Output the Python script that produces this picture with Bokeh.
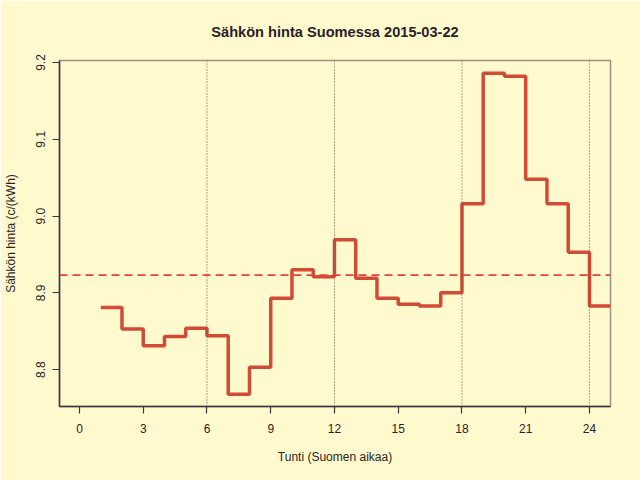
from bokeh.plotting import figure
from bokeh.models import FixedTicker, Range1d, Span, Title
from bokeh.embed import file_html
from bokeh.resources import INLINE

# data
hours = list(range(1, 25))
prices = [8.881, 8.853, 8.831, 8.843, 8.854, 8.844, 8.768, 8.803,
          8.893, 8.930, 8.921, 8.969, 8.919, 8.893, 8.885, 8.883,
          8.900, 9.016, 9.186, 9.182, 9.048, 9.016, 8.953, 8.883]
mean_price = 8.923
x_ticks = [0, 3, 6, 9, 12, 15, 18, 21, 24]
y_ticks = [8.8, 8.9, 9.0, 9.1, 9.2]
y_tick_labels = ["8.8", "8.9", "9.0", "9.1", "9.2"]
grid_hours = [6, 12, 18, 24]

BG = "#FFFACD"
FONT = "Liberation Sans"

p = figure(width=640, height=480, output_backend="svg", toolbar_location=None,
           x_range=Range1d(-0.94, 24.99), y_range=Range1d(8.752, 9.2026),
           min_border_left=59, min_border_right=30, min_border_top=59, min_border_bottom=74)
p.background_fill_color = BG
p.border_fill_color = BG
p.outline_line_color = "#9a9482"
p.outline_line_width = 1.5
p.grid.visible = False

p.title = Title(text="Sähkön hinta Suomessa 2015-03-22", align="center",
                text_font=FONT, text_font_size="14.6px", text_font_style="bold",
                text_color="#2a2228", standoff=42)

for h in grid_hours:
    p.add_layout(Span(location=h, dimension="height", line_color="#555555",
                      line_dash="1 2", line_width=1))

p.add_layout(Span(location=mean_price, dimension="width", line_color="#E8413A",
                  line_dash="8 5", line_width=1.8))

xs = hours + [hours[-1] + 1]
ys = prices + [prices[-1]]
p.step(xs, ys, mode="after", line_color="#D24B37", line_width=3.5)

p.xaxis.ticker = FixedTicker(ticks=x_ticks)
p.yaxis.ticker = FixedTicker(ticks=y_ticks)
p.yaxis.major_label_overrides = {t: l for t, l in zip(y_ticks, y_tick_labels)}
p.yaxis.major_label_orientation = "vertical"

p.xaxis.axis_label = "Tunti (Suomen aikaa)"
p.yaxis.axis_label = "Sähkön hinta (c/(kWh)"

for ax in (p.xaxis, p.yaxis):
    ax.axis_line_color = "#3a3340"
    ax.axis_line_width = 1.5
    ax.major_tick_line_color = "#3a3340"
    ax.major_tick_line_width = 1.2
    ax.major_tick_out = 7
    ax.major_tick_in = 0
    ax.minor_tick_out = 0
    ax.minor_tick_in = 0
    ax.major_label_text_font = FONT
    ax.major_label_text_font_size = "12px"
    ax.major_label_text_color = "#2a2228"
    ax.axis_label_text_font = FONT
    ax.axis_label_text_font_size = "12px"
    ax.axis_label_text_font_style = "normal"
    ax.axis_label_text_color = "#2a2228"

p.xaxis.major_label_standoff = 10
p.xaxis.axis_label_standoff = 14
p.yaxis.major_label_standoff = 7
p.yaxis.axis_label_standoff = 16

open("out.html", "w").write(file_html(p, INLINE))
